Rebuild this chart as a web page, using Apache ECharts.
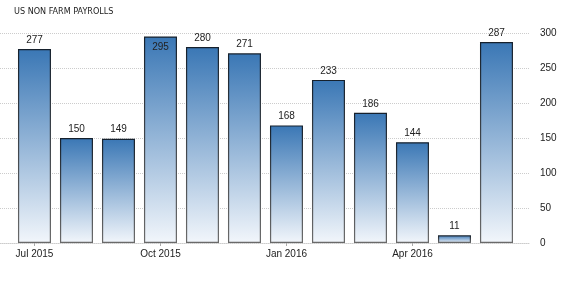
<!DOCTYPE html>
<html><head><meta charset="utf-8">
<script src="https://cdn.jsdelivr.net/npm/echarts@6/dist/echarts.min.js"></script>
<style>html,body{margin:0;padding:0;background:#fff}#c{width:580px;height:282px}</style>
</head><body><div id="c"></div>
<script>
const months = ['Jul 2015','Aug 2015','Sep 2015','Oct 2015','Nov 2015','Dec 2015','Jan 2016','Feb 2016','Mar 2016','Apr 2016','May 2016','Jun 2016'];
const payrolls = [277,150,149,295,280,271,168,233,186,144,11,287];
const xTickIndex = [0,3,6,9];
const yTicks = [0,50,100,150,200,250,300];

const chart = echarts.init(document.getElementById('c'));
chart.setOption({
  animation:false,
  title:{text:'US NON FARM PAYROLLS',left:9,top:2,textStyle:{fontSize:9,fontWeight:'normal',color:'#222',fontFamily:'DejaVu Sans Condensed, DejaVu Sans, sans-serif'}},
  grid:{left:0,right:50,top:33,bottom:39},
  xAxis:{type:'value',min:-0.821,max:11.798,
    axisLine:{show:true,lineStyle:{color:'#ccc',type:'dotted'}},
    axisTick:{show:true,customValues:xTickIndex,length:3,lineStyle:{color:'#aaa'}},
    axisLabel:{customValues:xTickIndex,formatter:v=>months[Math.round(v)],fontSize:10,color:'#222',fontFamily:'Liberation Sans, Arial, sans-serif',margin:6},
    splitLine:{show:false}},
  yAxis:{type:'value',position:'right',min:0,max:300,interval:50,
    axisLine:{show:false},axisTick:{show:false},
    axisLabel:{fontSize:10,color:'#222',fontFamily:'Liberation Sans, Arial, sans-serif',margin:10},
    splitLine:{lineStyle:{color:'#ccc',type:'dotted'}}},
  series:[{type:'bar',barWidth:33,
    data:payrolls.map((v,i)=>({value:[i,v],label:v>290?{position:'insideTop',distance:6}:{}})),
    label:{show:true,position:'top',fontSize:10,color:'#222',fontFamily:'Liberation Sans, Arial, sans-serif',distance:4,formatter:p=>p.value[1]},
    itemStyle:{
      color:new echarts.graphic.LinearGradient(0,0,0,1,[{offset:0,color:'#3a77b5'},{offset:1,color:'#f2f6fb'}]),
      borderColor:new echarts.graphic.LinearGradient(0,0,0,1,[{offset:0,color:'#15202c'},{offset:1,color:'#6a6a6a'}]),
      borderWidth:1.2}
  }]
});
</script></body></html>
